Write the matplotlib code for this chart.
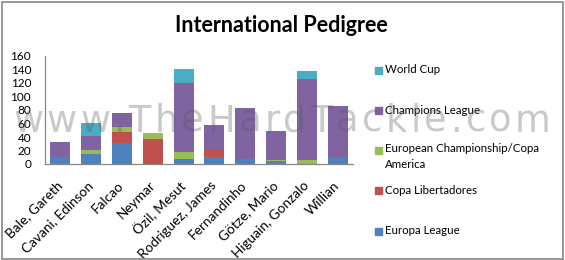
import matplotlib
matplotlib.use("Agg")
import matplotlib.pyplot as plt
from matplotlib.patches import Rectangle
import numpy as np

plt.rcParams['font.family'] = ['Lato', 'DejaVu Sans']

players = ["Bale, Gareth", "Cavani, Edinson", "Falcao", "Neymar", "Özil, Mesut",
           "Rodriguez, James", "Fernandinho", "Götze, Mario", "Higuain, Gonzalo", "Willian"]
europa_league = [10, 15, 31, 0, 7, 10, 7, 4, 0, 10]
copa_libertadores = [0, 0, 17, 37, 0, 12, 0, 0, 0, 0]
euro_copa = [0, 6, 7, 9, 11, 0, 0, 2, 6, 0]
champions_league = [23, 21, 21, 0, 102, 36, 76, 43, 120, 76]
world_cup = [0, 18, 0, 0, 21, 0, 0, 0, 12, 0]

series_names = ["Europa League", "Copa Libertadores", "European Championship/Copa\nAmerica",
                "Champions League", "World Cup"]
series_values = [europa_league, copa_libertadores, euro_copa, champions_league, world_cup]
colors = ["#4F81BD", "#C0504D", "#9BBB59", "#8064A2", "#4BACC6"]
y_ticks = [0, 20, 40, 60, 80, 100, 120, 140, 160]
title = "International Pedigree"
watermark = "www.TheHardTackle.com"

W, H = 565, 260
fig = plt.figure(figsize=(W / 100, H / 100), dpi=100)
ax = fig.add_axes([45 / W, 1 - 164 / H, (353 - 45) / W, (164 - 56) / H])

x = np.arange(len(players))
bottom = np.zeros(len(players))
for name, vals, c in zip(series_names, series_values, colors):
    v = np.array(vals, dtype=float)
    ax.bar(x, v, bottom=bottom, width=0.65, color=c, label=name, zorder=2)
    bottom += v

ax.set_xlim(-0.5, len(players) - 0.5)
ax.set_ylim(0, 160)
ax.set_yticks(y_ticks)
ax.set_yticklabels([str(t) for t in y_ticks], fontsize=8.5)
ax.tick_params(axis='y', length=0, pad=10)
ax.set_xticks(x)
ax.set_xticklabels(players, rotation=45, ha='right', va='center',
                   rotation_mode='anchor', fontsize=9.8)
ax.tick_params(axis='x', length=0, pad=14)
for s in ['top', 'right']:
    ax.spines[s].set_visible(False)
for s in ['left', 'bottom']:
    ax.spines[s].set_color('#868686')
    ax.spines[s].set_linewidth(0.9)

fig.text(281 / W, 1 - 32 / H, title, ha='center', va='baseline',
         fontsize=15.5, fontweight='bold')

# legend (reverse order, Excel style)
for i, (name, c) in enumerate(zip(series_names[::-1], colors[::-1])):
    yc = 70 + i * 40.25
    fig.patches.append(Rectangle((375 / W, 1 - (yc + 3.5) / H), 7 / W, 7 / H,
                                 transform=fig.transFigure, color=c, figure=fig))
    if '\n' in name:
        fig.text(385 / W, 1 - (yc - 7.5) / H, name, ha='left', va='top', fontsize=8.3,
                 linespacing=1.55)
    else:
        fig.text(385 / W, 1 - yc / H, name, ha='left', va='center', fontsize=8.3)

# outer border
fig.patches.append(Rectangle((1.5 / W, 1.5 / H), (562.5 - 1.5) / W, (258 - 1.5) / H,
                             transform=fig.transFigure, fill=False, edgecolor='#868686',
                             linewidth=1.2, figure=fig))

# watermark with letter spacing
renderer = fig.canvas.get_renderer()
wm_kw = dict(fontsize=26.5, family='DejaVu Sans', color='#595959', alpha=0.32,
             va='baseline', ha='left', zorder=10)
widths = []
for ch in watermark:
    t = fig.text(0, 0, ch, **wm_kw)
    widths.append(t.get_window_extent(renderer).width)
    t.remove()
start, end = 13, 551
gap = (end - start - sum(widths)) / (len(watermark) - 1)
xp = start
for ch, w in zip(watermark, widths):
    fig.text(xp / W, 1 - 132 / H, ch, **wm_kw)
    xp += w + gap

fig.savefig("out.png", dpi=100)
